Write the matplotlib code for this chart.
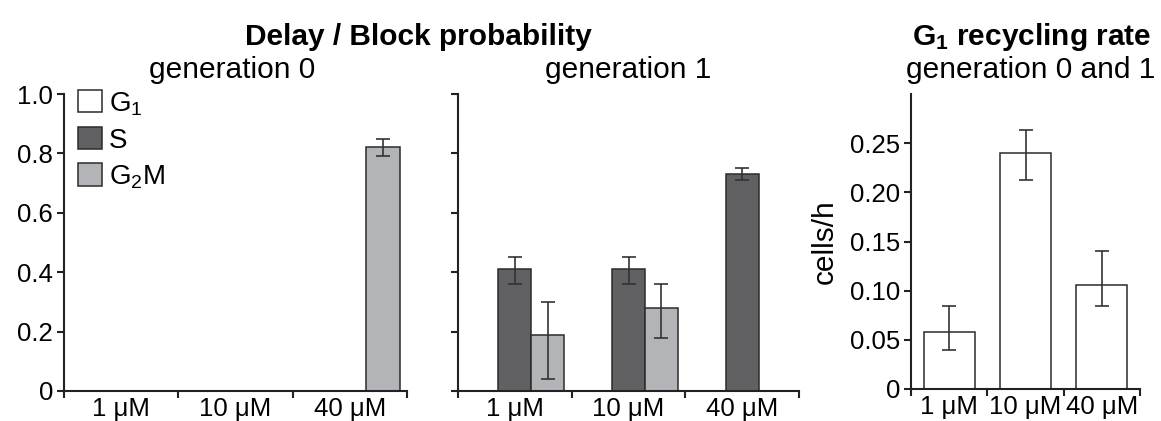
import numpy as np
import matplotlib
matplotlib.use('Agg')
import matplotlib.pyplot as plt

# Data
conc = ['1 \u03bcM', '10 \u03bcM', '40 \u03bcM']

# generation 0, delay / block probability
gen0_G1 = [0, 0, 0]
gen0_S = [0, 0, 0]
gen0_G2M = [0, 0, 0.82]
gen0_G2M_lo = [0, 0, 0.03]
gen0_G2M_hi = [0, 0, 0.03]

# generation 1
gen1_G1 = [0, 0, 0]
gen1_S = [0.41, 0.41, 0.73]
gen1_S_lo = [0.05, 0.05, 0.02]
gen1_S_hi = [0.04, 0.04, 0.02]
gen1_G2M = [0.19, 0.28, 0]
gen1_G2M_lo = [0.15, 0.10, 0]
gen1_G2M_hi = [0.11, 0.08, 0]

# G1 recycling rate, generation 0 and 1 (cells/h)
rate = [0.058, 0.240, 0.106]
rate_lo = [0.018, 0.027, 0.022]
rate_hi = [0.026, 0.023, 0.034]

phase_names = ['G$_1$', 'S', 'G$_2$M']
phase_colors = ['white', '#616163', '#b3b4b7']

plt.rcParams['font.family'] = ['Liberation Sans', 'DejaVu Sans']
plt.rcParams['mathtext.fontset'] = 'custom'
plt.rcParams['mathtext.rm'] = 'Liberation Sans'
plt.rcParams['mathtext.it'] = 'Liberation Sans:italic'
plt.rcParams['mathtext.bf'] = 'Liberation Sans:bold'

FS = 18.5      # tick labels
FS_SUB = 21.5  # subtitles, axis label
FS_LEG = 20
EDGE = '#2b2b2b'

fig = plt.figure(figsize=(11.61, 4.21), dpi=100)
W, H = 1161, 421


def px_axes(x0, x1, ytop, ybot):
    return fig.add_axes([x0 / W, 1 - ybot / H, (x1 - x0) / W, (ybot - ytop) / H])


def style_axes(ax, ncat, labels):
    for s in ['top', 'right']:
        ax.spines[s].set_visible(False)
    for s in ['left', 'bottom']:
        ax.spines[s].set_linewidth(1.5)
        ax.spines[s].set_color('#222222')
    ax.set_xlim(0, ncat)
    ax.set_xticks(np.arange(ncat + 1))
    ax.set_xticklabels([])
    ax.set_xticks(np.arange(ncat) + 0.5, minor=True)
    ax.set_xticklabels(labels, minor=True, fontsize=FS)
    ax.tick_params(axis='x', which='major', direction='out', length=5, width=1.5, color='#222222')
    ax.tick_params(axis='x', which='minor', length=0, pad=4)
    ax.tick_params(axis='y', direction='out', length=5, width=1.5, color='#222222',
                   labelsize=FS, pad=3)


def grouped(ax, series, los, his):
    x = np.arange(3) + 0.5
    w = 0.29
    offs = [-w, 0, w]
    for i, vals in enumerate(series):
        v = np.array(vals, dtype=float)
        hv = np.where(v > 0, v, np.nan)
        ax.bar(x + offs[i], hv, width=w, color=phase_colors[i], edgecolor=EDGE,
               linewidth=1.1, label=phase_names[i], zorder=2)
        if los[i] is not None:
            lo = np.where(v > 0, los[i], np.nan)
            hi = np.where(v > 0, his[i], np.nan)
            ax.errorbar(x + offs[i], hv, yerr=[lo, hi], fmt='none', ecolor='#333333',
                        elinewidth=1.2, capsize=5, capthick=1.2, zorder=3)


# panel 1: generation 0
ax1 = px_axes(64, 407, 94, 391)
style_axes(ax1, 3, conc)
grouped(ax1, [gen0_G1, gen0_S, gen0_G2M], [None, None, gen0_G2M_lo],
        [None, None, gen0_G2M_hi])
ax1.set_ylim(0, 1.0)
ax1.set_yticks([0, 0.2, 0.4, 0.6, 0.8, 1.0])
ax1.set_yticklabels(['0', '0.2', '0.4', '0.6', '0.8', '1.0'])
leg = ax1.legend(loc='upper left', bbox_to_anchor=(78 / W, 1 - 90 / H),
                 bbox_transform=fig.transFigure, frameon=False, fontsize=FS_LEG,
                 handlelength=0.85, handleheight=0.85, handletextpad=0.25,
                 labelspacing=0.34, borderpad=0, borderaxespad=0)

# panel 2: generation 1
ax2 = px_axes(458, 799, 94, 391)
style_axes(ax2, 3, conc)
grouped(ax2, [gen1_G1, gen1_S, gen1_G2M], [None, gen1_S_lo, gen1_G2M_lo],
        [None, gen1_S_hi, gen1_G2M_hi])
ax2.set_ylim(0, 1.0)
ax2.set_yticks([0, 0.2, 0.4, 0.6, 0.8, 1.0])
ax2.set_yticklabels([])

# panel 3: G1 recycling rate
ax3 = px_axes(911, 1140, 94, 389)
style_axes(ax3, 3, conc)
xr = np.arange(3) + 0.5
ax3.bar(xr, rate, width=0.67, color='white', edgecolor=EDGE, linewidth=1.1, zorder=2)
ax3.errorbar(xr, rate, yerr=[rate_lo, rate_hi], fmt='none', ecolor='#333333',
             elinewidth=1.2, capsize=5, capthick=1.2, zorder=3)
ax3.set_ylim(0, 0.3)
ax3.set_yticks([0, 0.05, 0.10, 0.15, 0.20, 0.25])
ax3.set_yticklabels(['0', '0.05', '0.10', '0.15', '0.20', '0.25'])
ax3.set_ylabel('cells/h', fontsize=FS_SUB, labelpad=8)

# titles
fig.text(418 / W, 1 - 45 / H, 'Delay / Block probability', fontsize=FS_SUB, fontweight='bold',
         ha='center', va='baseline')
fig.text(232 / W, 1 - 78 / H, 'generation 0', fontsize=FS_SUB, ha='center', va='baseline')
fig.text(628 / W, 1 - 78 / H, 'generation 1', fontsize=FS_SUB, ha='center', va='baseline')
fig.text(1032 / W, 1 - 45 / H, 'G$_\\mathbf{1}$ recycling rate', fontsize=FS_SUB,
         fontweight='bold', ha='center', va='baseline')
fig.text(1031 / W, 1 - 78 / H, 'generation 0 and 1', fontsize=FS_SUB, ha='center', va='baseline')

fig.savefig('out.png', dpi=100)
